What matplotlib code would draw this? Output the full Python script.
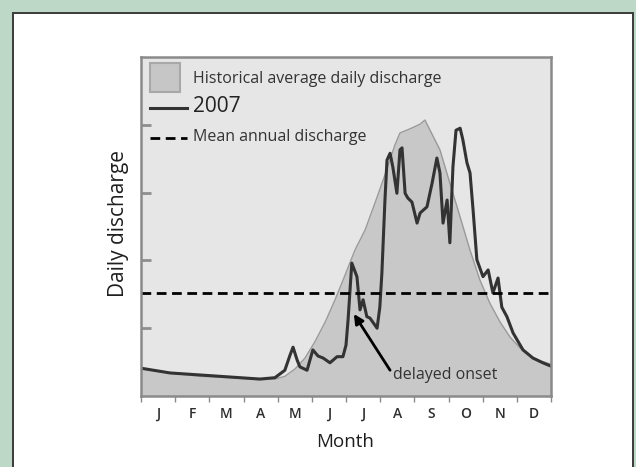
import numpy as np
import matplotlib.pyplot as plt
from matplotlib.patches import Rectangle
from matplotlib.lines import Line2D

plt.rcParams['font.family'] = ['Open Sans', 'DejaVu Sans']

# month positions (0 = 1 Jan, 12 = 31 Dec) and discharge (relative units)
hist_month = [0.00, 0.85, 1.73, 2.61, 3.48, 3.92, 4.21, 4.51, 4.80, 5.09, 5.39, 5.68,
              5.97, 6.26, 6.56, 6.85, 7.14, 7.43, 7.58, 7.87, 8.17, 8.31, 8.46, 8.75,
              9.04, 9.34, 9.63, 9.92, 10.21, 10.51, 10.80, 11.09, 11.38, 11.68, 12.00]
hist_flow = [0.40, 0.34, 0.29, 0.27, 0.24, 0.25, 0.29, 0.40, 0.56, 0.80, 1.09, 1.42,
             1.78, 2.15, 2.45, 2.85, 3.26, 3.70, 3.88, 3.94, 4.01, 4.07, 3.92, 3.63,
             3.14, 2.64, 2.15, 1.71, 1.37, 1.09, 0.87, 0.71, 0.59, 0.52, 0.47]

y2007_month = [0.00, 0.85, 1.73, 2.61, 3.48, 3.92, 4.21, 4.36, 4.45, 4.57, 4.65, 4.86,
               5.03, 5.18, 5.33, 5.53, 5.74, 5.91, 6.00, 6.06, 6.17, 6.32, 6.41, 6.50,
               6.61, 6.70, 6.91, 6.99, 7.05, 7.14, 7.20, 7.29, 7.37, 7.49, 7.58, 7.64,
               7.73, 7.81, 7.93, 8.08, 8.17, 8.37, 8.52, 8.66, 8.75, 8.84, 8.96, 9.04,
               9.13, 9.22, 9.34, 9.42, 9.54, 9.63, 9.72, 9.83, 10.01, 10.16, 10.30, 10.45,
               10.56, 10.71, 10.89, 11.18, 11.47, 11.76, 12.00]
y2007_flow = [0.41, 0.34, 0.31, 0.28, 0.25, 0.27, 0.38, 0.60, 0.72, 0.53, 0.43, 0.38,
              0.68, 0.59, 0.56, 0.49, 0.58, 0.58, 0.75, 1.12, 1.96, 1.76, 1.27, 1.42,
              1.17, 1.15, 1.00, 1.31, 1.81, 2.89, 3.48, 3.58, 3.38, 2.99, 3.63, 3.66,
              2.99, 2.92, 2.86, 2.55, 2.70, 2.79, 3.14, 3.51, 3.29, 2.55, 2.89, 2.26,
              3.38, 3.92, 3.95, 3.78, 3.44, 3.29, 2.74, 2.01, 1.76, 1.86, 1.52, 1.74,
              1.31, 1.17, 0.93, 0.68, 0.56, 0.49, 0.44]

mean_annual = 1.52
month_labels = ['J', 'F', 'M', 'A', 'M', 'J', 'J', 'A', 'S', 'O', 'N', 'D']

fig = plt.figure(figsize=(6.36, 4.67), dpi=100, facecolor='#bdd8c7')
# white card behind the chart
fig.patches.append(Rectangle((13/636, -0.01), 620/636, 454/467 + 0.01, zorder=-10,
                             transform=fig.transFigure, fc='white', ec='#3a3a3a', lw=1.4))

ax = fig.add_axes([141/636, 71/467, 410/636, 339/467])
ax.set_facecolor('#e6e6e6')

ax.fill_between(hist_month, hist_flow, 0, color='#c8c8c8', lw=0)
ax.plot(hist_month, hist_flow, color='#9a9a9a', lw=1)
ax.plot(y2007_month, y2007_flow, color='#333333', lw=2.2, solid_joinstyle='round')
ax.axhline(mean_annual, color='black', lw=2, dashes=(3.5, 2))

ax.set_xlim(0, 12)
ax.set_ylim(0, 5)

for s in ax.spines.values():
    s.set_color('#8a8a8a')
    s.set_linewidth(1.8)

ax.set_xticks(range(13))
ax.set_xticklabels([])
ax.tick_params(axis='x', which='major', direction='out', length=4, width=1, color='#8a8a8a')
ax.set_xticks(np.arange(12) + 0.5, minor=True)
ax.set_xticklabels(month_labels, minor=True, fontsize=10, color='#2e2e2e', fontweight='semibold')
ax.tick_params(axis='x', which='minor', length=0, pad=8)

ax.set_yticks([1, 2, 3, 4])
ax.set_yticklabels([])
ax.tick_params(axis='y', direction='in', length=7.5, width=2, color='#8e8e8e')

ax.set_xlabel('Month', fontsize=13.5, color='#1e1e1e')
ax.xaxis.label.set_va('center')
ax.xaxis.set_label_coords(0.498, -0.136)
ax.set_ylabel('Daily discharge', fontsize=15, color='#1e1e1e')
ax.yaxis.label.set_va('center')
ax.yaxis.set_label_coords(-0.056, 0.51)

# annotation
ax.annotate('', xy=(6.23, 1.21), xytext=(7.29, 0.38),
            arrowprops=dict(arrowstyle='-|>', color='black', lw=2, mutation_scale=14,
                            shrinkA=0, shrinkB=0))
ax.text(7.38, 0.31, 'delayed onset', fontsize=11.5, color='#333333', va='center', ha='left')

# legend drawn by hand to match the original layout
ax.add_patch(Rectangle((0.022, 0.897), 0.073, 0.085, transform=ax.transAxes,
                       fc='#c6c6c6', ec='#a8a8a8', lw=1.5))
ax.add_line(Line2D([0.022, 0.112], [0.85, 0.85], transform=ax.transAxes,
                   color='#333333', lw=2.2))
ax.add_line(Line2D([0.022, 0.112], [0.761, 0.761], transform=ax.transAxes,
                   color='black', lw=2, dashes=(3.5, 2)))
ax.text(0.127, 0.935, 'Historical average daily discharge', transform=ax.transAxes,
        fontsize=11.5, color='#333333', va='center')
ax.text(0.127, 0.853, '2007', transform=ax.transAxes, fontsize=15, color='#222222', va='center')
ax.text(0.127, 0.764, 'Mean annual discharge', transform=ax.transAxes,
        fontsize=11.5, color='#333333', va='center')

fig.savefig('out.png', dpi=100, facecolor=fig.get_facecolor())
